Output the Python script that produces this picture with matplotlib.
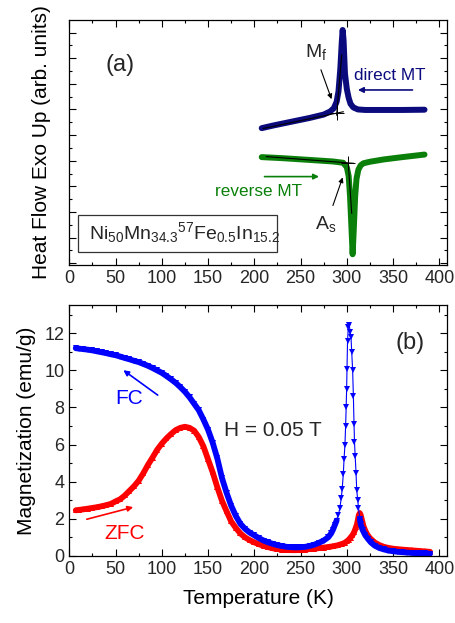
import matplotlib
matplotlib.use('Agg')
import matplotlib.pyplot as plt
from matplotlib.patches import Rectangle
from matplotlib.ticker import MultipleLocator

plt.rcParams['font.family'] = ['Liberation Sans', 'DejaVu Sans']
plt.rcParams['mathtext.fontset'] = 'custom'
plt.rcParams['mathtext.rm'] = 'Liberation Sans'
plt.rcParams['mathtext.it'] = 'Liberation Sans:italic'
plt.rcParams['text.color'] = '#262626'

# ---- panel (a): DSC curves (arb. units) ----
t_direct = [208, 220, 240, 260, 275, 282, 286, 289, 291, 293, 294.5, 295.5, 296.5,
            298, 300, 302, 304, 307, 312, 320, 340, 360, 384]
q_direct = [5.27, 5.37, 5.52, 5.67, 5.80, 5.92, 6.05, 6.30, 6.70, 7.60, 8.60, 9.10, 8.70,
            7.40, 6.80, 6.45, 6.22, 6.08, 6.00, 5.98, 5.98, 5.98, 5.99]
t_reverse = [208, 230, 260, 285, 296, 300, 302, 303.5, 305, 306.3, 307.5, 309, 310.5,
             312.5, 315, 318, 325, 340, 360, 384]
q_reverse = [4.14, 4.10, 4.03, 3.97, 3.92, 3.75, 3.40, 2.60, 1.40, 0.35, 1.30, 2.60, 3.30,
             3.65, 3.82, 3.90, 3.96, 4.05, 4.14, 4.24]

# ---- panel (b): M(T) at H = 0.05 T ----
t_fc = [7, 10, 15, 20, 25, 30, 35, 40, 45, 50, 55, 60, 65, 70, 75, 80, 85, 90, 95, 100,
        105, 110, 115, 120, 125, 130, 135, 140, 145, 150, 155, 160, 165, 170, 175, 180,
        185, 190, 195, 200, 205, 210, 215, 220, 225, 230, 235, 240, 245, 250, 255, 260,
        265, 270, 275, 280, 283, 285, 287, 289, 291, 292.5, 294, 295, 296.2, 297, 298,
        298.7, 299.3, 299.8, 300.2, 300.8, 301.6, 302.7, 303.5, 304.5, 305.3, 306.3,
        307.1, 307.8, 308.3, 309, 310, 310.7, 311.8, 312.6, 314, 315, 317, 320, 323, 326,
        330, 335, 340, 345, 350, 355, 360, 365, 370, 375, 380, 385, 390]
m_fc = [11.20, 11.18, 11.15, 11.12, 11.08, 11.03, 10.98, 10.93, 10.87, 10.82, 10.75,
        10.67, 10.60, 10.52, 10.45, 10.35, 10.25, 10.13, 10.00, 9.87, 9.70, 9.52, 9.33,
        9.10, 8.85, 8.55, 8.20, 7.85, 7.35, 6.80, 6.10, 5.25, 4.20, 3.40, 2.70, 2.15,
        1.72, 1.45, 1.25, 1.10, 0.95, 0.82, 0.72, 0.64, 0.57, 0.52, 0.48, 0.46, 0.45,
        0.46, 0.48, 0.53, 0.60, 0.70, 0.82, 1.00, 1.20, 1.40, 1.65, 1.90, 2.20, 2.60,
        3.10, 3.60, 4.40, 5.20, 6.00, 7.00, 8.00, 9.00, 10.10, 11.60, 12.35, 12.45,
        12.10, 11.80, 11.00, 10.00, 8.60, 7.10, 6.15, 5.40, 4.45, 3.55, 3.00, 2.60,
        2.00, 1.70, 1.40, 1.10, 0.90, 0.72, 0.55, 0.42, 0.34, 0.28, 0.24, 0.21, 0.19,
        0.17, 0.15, 0.14, 0.13, 0.12, 0.11]
t_zfc = [7, 10, 15, 20, 25, 30, 35, 40, 45, 50, 55, 60, 65, 70, 75, 80, 85, 90, 95, 100,
         105, 110, 115, 120, 125, 130, 135, 140, 145, 150, 155, 160, 165, 170, 175, 180,
         185, 190, 195, 200, 205, 210, 215, 220, 225, 230, 235, 240, 245, 250, 255, 260,
         265, 270, 275, 280, 285, 290, 295, 298, 300, 302, 304, 306, 308, 310, 311, 312,
         313, 314, 315, 316, 317, 318, 320, 322, 325, 330, 335, 340, 345, 350, 355, 360,
         365, 370, 375, 380, 385, 390]
m_zfc = [2.45, 2.47, 2.50, 2.54, 2.58, 2.62, 2.67, 2.73, 2.80, 2.93, 3.05, 3.25, 3.50,
         3.75, 4.05, 4.45, 4.90, 5.30, 5.72, 6.05, 6.33, 6.57, 6.78, 6.90, 6.96, 6.90,
         6.75, 6.40, 5.90, 5.20, 4.50, 3.70, 2.97, 2.40, 1.85, 1.50, 1.20, 0.99, 0.84,
         0.72, 0.62, 0.53, 0.46, 0.40, 0.36, 0.33, 0.31, 0.30, 0.30, 0.31, 0.33, 0.36,
         0.38, 0.41, 0.44, 0.47, 0.51, 0.56, 0.64, 0.70, 0.78, 0.86, 0.98, 1.10, 1.28,
         1.55, 1.70, 1.95, 2.20, 2.30, 2.20, 2.00, 1.80, 1.60, 1.35, 1.15, 0.95, 0.72,
         0.58, 0.48, 0.42, 0.38, 0.35, 0.33, 0.31, 0.29, 0.27, 0.25, 0.23, 0.21]

# FC points are measured densely away from the sharp peak -> drawn as a thick band there
fc_dense_end = 60      # up to ~289 K
fc_dense_start = 86    # from ~314 K

navy = '#0b0b7d'
green = '#0a800a'


def style_axes(ax):
    ax.set_xlim(0, 408)
    ax.xaxis.set_major_locator(MultipleLocator(50))
    ax.xaxis.set_minor_locator(MultipleLocator(25))
    ax.tick_params(which='both', direction='in', top=True, right=True, width=0.8,
                   labelsize=13, labelcolor='#262626')
    ax.tick_params(which='major', length=5)
    ax.tick_params(which='minor', length=2.5)
    for s in ax.spines.values():
        s.set_linewidth(0.9)


fig = plt.figure(figsize=(4.55, 6.23), dpi=100)
axa = fig.add_axes([0.1523, 0.5746, 0.8295, 0.3933])
axb = fig.add_axes([0.1523, 0.1080, 0.8295, 0.4024])

# panel (a)
style_axes(axa)
axa.set_ylim(-0.07, 9.49)
axa.yaxis.set_major_locator(MultipleLocator(1))
axa.yaxis.set_minor_locator(MultipleLocator(0.5))
axa.set_yticklabels([])
axa.set_ylabel('Heat Flow Exo Up (arb. units)', fontsize=15, labelpad=10)

axa.plot(t_direct, q_direct, color=navy, lw=4.3, solid_capstyle='round',
         solid_joinstyle='round')
axa.plot(t_reverse, q_reverse, color=green, lw=4.3, solid_capstyle='round',
         solid_joinstyle='round')

# tangent construction lines
axa.plot([209.7, 296.2], [5.26, 5.91], color='k', lw=0.8)
axa.plot([289, 294.5], [5.78, 8.12], color='k', lw=0.8)
axa.plot([289.7], [5.85], marker='+', ms=10, mew=0.7, color='k')
axa.plot([213, 307], [4.16, 3.90], color='k', lw=0.8)
axa.plot([301.6, 305.3], [3.90, 1.95], color='k', lw=0.8)
axa.plot([301.6], [3.92], marker='+', ms=10, mew=0.7, color='k')

axa.annotate('', xy=(284.5, 6.3), xytext=(271, 7.65),
             arrowprops=dict(arrowstyle='-|>', color='k', lw=0.8, mutation_scale=7))
axa.text(267, 8.25, r'M$_\mathrm{f}$', fontsize=14, ha='center', va='center')
axa.annotate('', xy=(296.5, 3.45), xytext=(284, 2.15),
             arrowprops=dict(arrowstyle='-|>', color='k', lw=0.8, mutation_scale=7))
axa.text(277, 1.55, r'A$_\mathrm{s}$', fontsize=14, ha='center', va='center')

axa.text(346.7, 7.34, 'direct MT', color=navy, fontsize=12.3, ha='center', va='center')
axa.annotate('', xy=(309, 6.76), xytext=(374, 6.76),
             arrowprops=dict(arrowstyle='-|>', color=navy, lw=1.2, mutation_scale=8))
axa.text(204.4, 2.79, 'reverse MT', color=green, fontsize=12.3, ha='center', va='center')
axa.annotate('', xy=(273, 3.38), xytext=(208, 3.38),
             arrowprops=dict(arrowstyle='-|>', color=green, lw=1.2, mutation_scale=8))

axa.text(55, 7.73, '(a)', fontsize=17, ha='center', va='center')
axa.add_patch(Rectangle((9.7, 0.45), 214.5, 1.43, fill=False, ec='#333333', lw=0.9))
axa.text(21.5, 1.2,
         r'Ni$_{\mathrm{50}}$Mn$_{\mathrm{34.3}}$$^{\mathrm{57}}$Fe$_{\mathrm{0.5}}$In$_{\mathrm{15.2}}$',
         fontsize=14, ha='left', va='center')

# panel (b)
style_axes(axb)
axb.set_ylim(0, 13.53)
axb.yaxis.set_major_locator(MultipleLocator(2))
axb.yaxis.set_minor_locator(MultipleLocator(1))
axb.set_ylabel('Magnetization (emu/g)', fontsize=15, labelpad=6)
axb.set_xlabel('Temperature (K)', fontsize=15, labelpad=8)

axb.plot(t_zfc, m_zfc, color='#ff0000', lw=4.2, solid_capstyle='round')
axb.plot(t_zfc, m_zfc, color='#ff0000', lw=0, marker='^', ms=5, mew=0)
axb.plot(t_fc[:fc_dense_end], m_fc[:fc_dense_end], color='#0000ff', lw=4.2,
         solid_capstyle='round')
axb.plot(t_fc[fc_dense_start:], m_fc[fc_dense_start:], color='#0000ff', lw=4.2,
         solid_capstyle='round')
axb.plot(t_fc, m_fc, color='#0000ff', lw=0.8, marker='v', ms=5, mew=0)

axb.text(368, 11.46, '(b)', fontsize=17, ha='center', va='center')
axb.text(64.9, 8.49, 'FC', color='#0000ff', fontsize=15, ha='center', va='center')
axb.annotate('', xy=(56, 10.1), xytext=(98, 8.58),
             arrowprops=dict(arrowstyle='-|>', color='#0000ff', lw=1.2, mutation_scale=8))
axb.text(60.2, 1.21, 'ZFC', color='#ff0000', fontsize=15, ha='center', va='center')
axb.annotate('', xy=(72, 2.66), xytext=(16, 1.93),
             arrowprops=dict(arrowstyle='-|>', color='#ff0000', lw=1.2, mutation_scale=8))
axb.text(220.5, 6.78, 'H = 0.05 T', fontsize=15, ha='center', va='center')

fig.savefig('out.png', dpi=100)
